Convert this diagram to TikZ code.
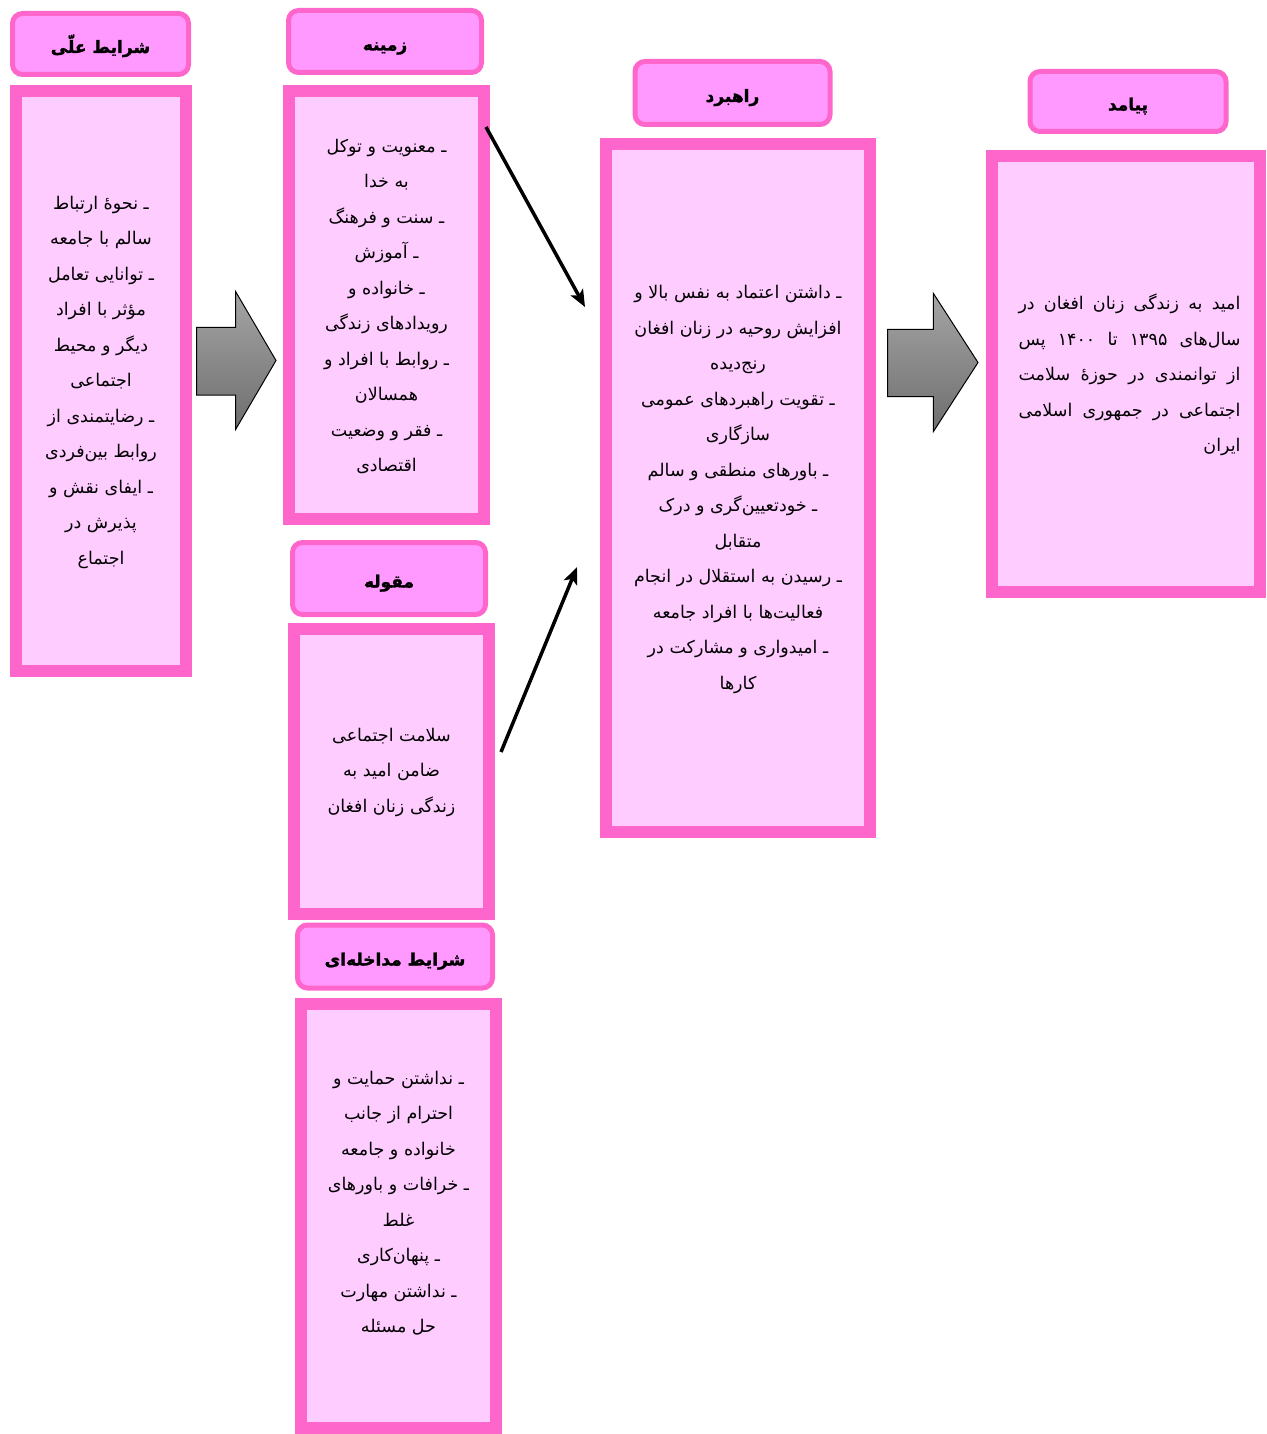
\documentclass[tikz,border=0pt]{standalone}
\usepackage{fontspec}
\usetikzlibrary{arrows.meta,shapes.geometric}
\TeXXeTstate=1
\newfontfamily\arabicfont[Script=Arabic]{DejaVu Sans}
\newfontfamily\titlefont[Script=Arabic,FakeBold=1.6]{DejaVu Sans Bold}
\newcommand{\rl}[1]{\beginR #1\endR}
\newcommand{\jl}[1]{\hbox to 222pt{\beginR #1\endR}}
\definecolor{pinkB}{RGB}{255,102,204}
\definecolor{pinkT}{RGB}{255,153,255}
\definecolor{pinkC}{RGB}{255,204,255}
\definecolor{grayTop}{RGB}{165,165,165}
\definecolor{grayBot}{RGB}{110,110,110}
\tikzset{
  titlebox/.style={draw=pinkB, fill=pinkT, line width=5pt, rounded corners=10pt,
    inner sep=0pt, text height=19pt, text depth=1pt,
    font=\titlefont\fontsize{17}{20}\selectfont},
  contentbox/.style={draw=pinkB, fill=pinkC, line width=12pt, inner sep=0pt},
  bodytext/.style={align=center, inner sep=0pt,
    font=\arabicfont\fontsize{17.5}{35.5}\selectfont},
  blockarrow/.style={draw=black, line width=1pt, top color=grayTop, bottom color=grayBot},
  conn/.style={-{Stealth[length=17pt,width=14pt,inset=4pt]}, line width=3.5pt, black},
}
\begin{document}
\begin{tikzpicture}[x=1pt,y=-1pt]
\useasboundingbox (0,0) rectangle (1266,1434);
% titles
\node[titlebox, minimum width=176pt, minimum height=61pt] (t1) at (100.5,44) {\rl{شرایط علّی}};
\node[titlebox, minimum width=193pt, minimum height=62pt] (t2) at (385,41.5) {\rl{زمینه}};
\node[titlebox, minimum width=193pt, minimum height=72pt] (t3) at (389,578.5) {\rl{مقوله}};
\node[titlebox, minimum width=195pt, minimum height=63pt] (t4) at (395,956.5) {\rl{شرایط مداخله‌ای}};
\node[titlebox, minimum width=195pt, minimum height=63pt] (t5) at (732.5,93) {\rl{راهبرد}};
\node[titlebox, minimum width=196pt, minimum height=60pt] (t6) at (1128,101.5) {\rl{پیامد}};
% content boxes
\node[contentbox, minimum width=170pt, minimum height=580pt] (c1) at (101,381) {};
\node[contentbox, minimum width=195pt, minimum height=427pt] (c2) at (386.5,305) {};
\node[contentbox, minimum width=195pt, minimum height=285pt] (c3) at (391.5,771) {};
\node[contentbox, minimum width=195.5pt, minimum height=424pt] (c4) at (398.5,1216) {};
\node[contentbox, minimum width=264pt, minimum height=688pt] (c5) at (738,488) {};
\node[contentbox, minimum width=268pt, minimum height=436pt] (c6) at (1126,374) {};
% texts
\node[bodytext] (x1) at (101,382) {\rl{ـ نحوهٔ ارتباط}\\\rl{سالم با جامعه}\\\rl{ـ توانایی تعامل}\\\rl{مؤثر با افراد}\\\rl{دیگر و محیط}\\\rl{اجتماعی}\\\rl{ـ رضایتمندی از}\\\rl{روابط بین‌فردی}\\\rl{ـ ایفای نقش و}\\\rl{پذیرش در}\\\rl{اجتماع}};
\node[bodytext] (x2) at (386.5,306.5) {\rl{ـ معنویت و توکل}\\\rl{به خدا}\\\rl{ـ سنت و فرهنگ}\\\rl{ـ آموزش}\\\rl{ـ خانواده و}\\\rl{رویدادهای زندگی}\\\rl{ـ روابط با افراد و}\\\rl{همسالان}\\\rl{ـ فقر و وضعیت}\\\rl{اقتصادی}};
\node[bodytext] (x3) at (391.5,772) {\rl{سلامت اجتماعی}\\\rl{ضامن امید به}\\\rl{زندگی زنان افغان}};
\node[bodytext] (x4) at (398.5,1203) {\rl{ـ نداشتن حمایت و}\\\rl{احترام از جانب}\\\rl{خانواده و جامعه}\\\rl{ـ خرافات و باورهای}\\\rl{غلط}\\\rl{ـ پنهان‌کاری}\\\rl{ـ نداشتن مهارت}\\\rl{حل مسئله}};
\node[bodytext] (x5) at (738,489.5) {\rl{ـ داشتن اعتماد به نفس بالا و}\\\rl{افزایش روحیه در زنان افغان}\\\rl{رنج‌دیده}\\\rl{ـ تقویت راهبردهای عمومی}\\\rl{سازگاری}\\\rl{ـ باورهای منطقی و سالم}\\\rl{ـ خودتعیین‌گری و درک}\\\rl{متقابل}\\\rl{ـ رسیدن به استقلال در انجام}\\\rl{فعالیت‌ها با افراد جامعه}\\\rl{ـ امیدواری و مشارکت در}\\\rl{کارها}};
\node[bodytext] (x6) at (1129.5,375) {\jl{امید\hfill به\hfill زندگی\hfill زنان\hfill افغان\hfill در}\\\jl{سال‌های\hfill ۱۳۹۵\hfill تا\hfill ۱۴۰۰\hfill پس}\\\jl{از\hfill توانمندی\hfill در\hfill حوزهٔ\hfill سلامت}\\\jl{اجتماعی\hfill در\hfill جمهوری\hfill اسلامی}\\\jl{ایران\hfill}};
% block arrows
\draw[blockarrow] (196.7,327.3) -- (235.7,327.3) -- (235.7,291.7) -- (276,360.5) -- (235.7,429.3) -- (235.7,395) -- (196.7,395) -- cycle;
\draw[blockarrow] (887.7,329.3) -- (933.3,329.3) -- (933.3,293.3) -- (978,362.5) -- (933.3,431.7) -- (933.3,396.7) -- (887.7,396.7) -- cycle;
% connectors
\coordinate (a1s) at (486,127);
\coordinate (a1e) at (585,307);
\coordinate (a2s) at (501,752);
\coordinate (a2e) at (577,567);
\draw[conn] (a1s) -- (a1e);
\draw[conn] (a2s) -- (a2e);
\end{tikzpicture}
\end{document}
